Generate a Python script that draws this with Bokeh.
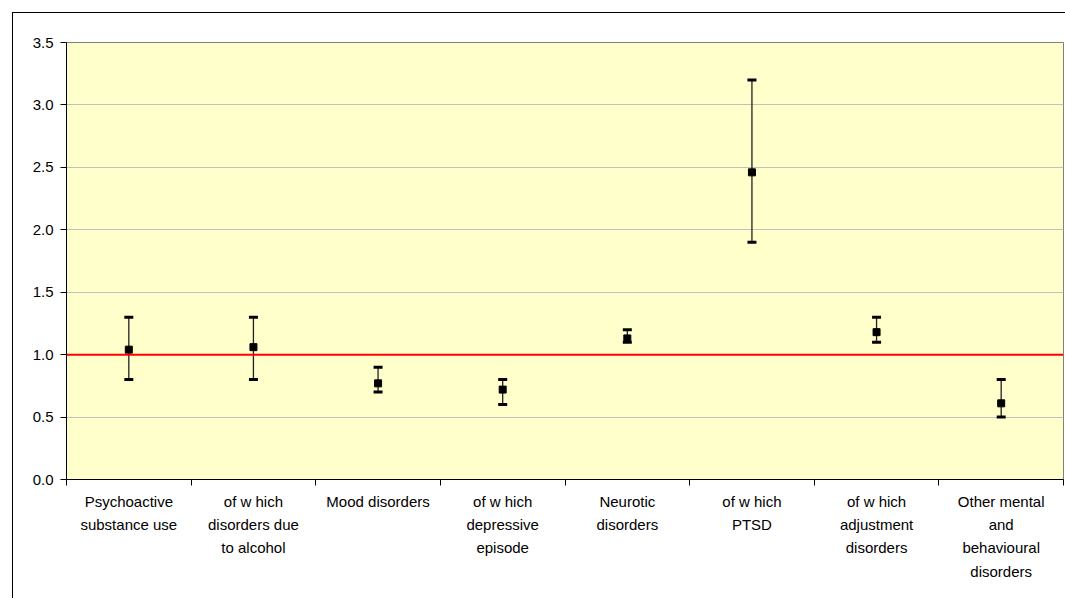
from bokeh.plotting import figure
from bokeh.layouts import column
from bokeh.models import Range1d, FixedTicker, NumeralTickFormatter, Span, ColumnDataSource
from bokeh.embed import file_html
from bokeh.resources import INLINE

categories = [
    "Psychoactive\nsubstance use",
    "of w hich\ndisorders due\nto alcohol",
    "Mood disorders",
    "of w hich\ndepressive\nepisode",
    "Neurotic\ndisorders",
    "of w hich\nPTSD",
    "of w hich\nadjustment\ndisorders",
    "Other mental\nand\nbehavioural\ndisorders",
]
estimate = [1.04, 1.06, 0.77, 0.72, 1.13, 2.46, 1.18, 0.61]
lower = [0.8, 0.8, 0.7, 0.6, 1.1, 1.9, 1.1, 0.5]
upper = [1.3, 1.3, 0.9, 0.8, 1.2, 3.2, 1.3, 0.8]
y_ticks = [0.0, 0.5, 1.0, 1.5, 2.0, 2.5, 3.0, 3.5]
reference_value = 1.0

xs = [i + 0.5 for i in range(len(categories))]
src = ColumnDataSource(dict(x=xs, est=estimate, lo=lower, hi=upper))

p = figure(width=1052, height=585, output_backend="svg", toolbar_location=None,
           x_range=Range1d(0, len(categories)), y_range=Range1d(0, 3.5),
           min_border_left=53, min_border_right=2, min_border_top=29,
           min_border_bottom=119)

p.background_fill_color = "#FFFFCC"
p.border_fill_color = "white"
p.outline_line_color = "#808080"
p.outline_line_width = 1

# y axis
p.yaxis.ticker = FixedTicker(ticks=y_ticks, minor_ticks=[])
p.yaxis.formatter = NumeralTickFormatter(format="0.0")
p.yaxis.major_tick_out = 6
p.yaxis.major_tick_in = 0
p.yaxis.minor_tick_out = 0
p.yaxis.minor_tick_in = 0
p.yaxis.axis_line_color = "black"
p.yaxis.major_tick_line_color = "black"
p.yaxis.major_label_text_font = "Liberation Sans"
p.yaxis.major_label_text_font_size = "15px"
p.yaxis.major_label_text_color = "black"
p.yaxis.major_label_standoff = 7

# x axis
p.xaxis.ticker = FixedTicker(ticks=xs, minor_ticks=list(range(len(categories) + 1)))
p.xaxis.major_label_overrides = {x: c for x, c in zip(xs, categories)}
p.xaxis.major_tick_out = 0
p.xaxis.major_tick_in = 0
p.xaxis.minor_tick_out = 6
p.xaxis.minor_tick_in = 0
p.xaxis.minor_tick_line_color = "black"
p.xaxis.axis_line_color = "black"
p.xaxis.major_label_text_font = "Liberation Sans"
p.xaxis.major_label_text_font_size = "15px"
p.xaxis.major_label_text_color = "black"
p.xaxis.major_label_text_line_height = 1.38
p.xaxis.major_label_standoff = 7
p.xaxis.major_label_orientation = "horizontal"

p.xgrid.grid_line_color = None
p.ygrid.ticker = FixedTicker(ticks=y_ticks)
p.ygrid.grid_line_color = "#C0C0C0"
p.ygrid.grid_line_width = 1

# error bars
p.segment(x0="x", y0="lo", x1="x", y1="hi", source=src,
          line_color="#222222", line_width=1.3)
p.rect(x="x", y="lo", width=9, height=3, width_units="screen", height_units="screen",
       source=src, fill_color="black", line_color=None)
p.rect(x="x", y="hi", width=9, height=3, width_units="screen", height_units="screen",
       source=src, fill_color="black", line_color=None)
p.scatter(x="x", y="est", source=src, marker="square", size=7,
          fill_color="black", line_color="black")

p.add_layout(Span(location=reference_value, dimension="width",
                  line_color="#FF0000", line_width=2))

layout = column(p, margin=(12, 0, 0, 12),
                styles={"border-left": "1px solid black", "border-top": "1px solid black"})

open("out.html", "w").write(file_html(layout, INLINE))
